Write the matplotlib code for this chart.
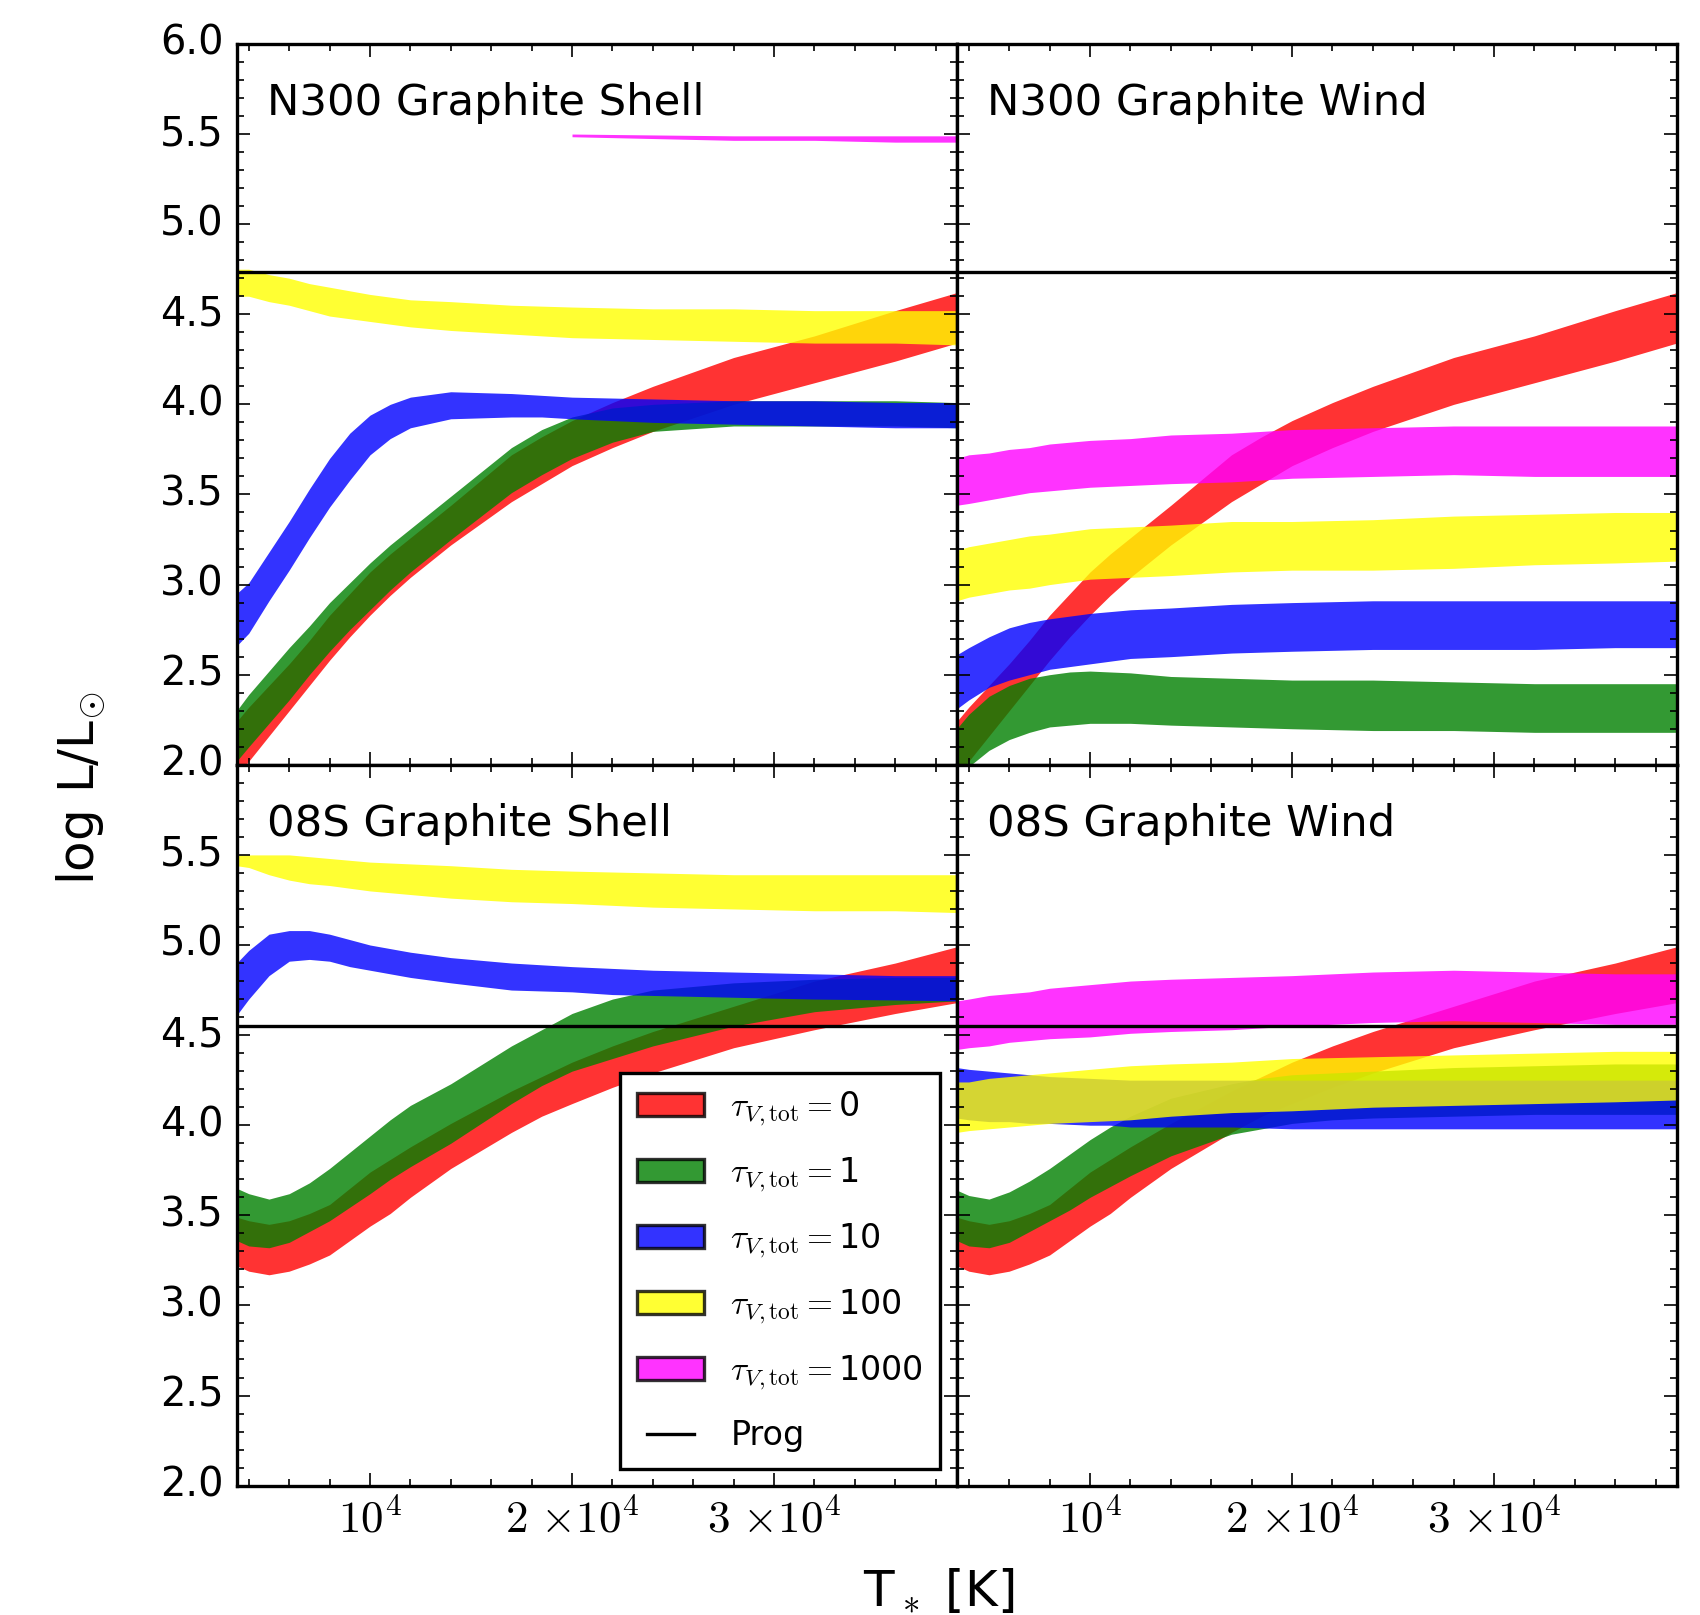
import numpy as np
import matplotlib
matplotlib.use('Agg')
import matplotlib.pyplot as plt
import matplotlib.patches as mpatches
from matplotlib.lines import Line2D
from matplotlib.ticker import MultipleLocator, FixedLocator, FuncFormatter

plt.style.use('classic')
plt.rcParams['mathtext.fontset'] = 'cm'
plt.rcParams['font.family'] = 'DejaVu Sans'

# temperature grid [K] shared by all bands
T = [3400, 4000, 5000, 6000, 7000, 8000, 9000, 10000, 11000, 12000, 14000,
     17000, 18500, 20000, 22000, 24000, 28000, 32000, 36000, 39040]
T_mag_shell = [20000, 24000, 28000, 32000, 36000, 39040]

# ---- N300 (top row) ----
n300_red_lo = [1.94, 2.02, 2.16, 2.30, 2.44, 2.58, 2.71, 2.83, 2.94, 3.04, 3.22, 3.46, 3.56, 3.66, 3.76, 3.85, 4.00, 4.12, 4.24, 4.34]
n300_red_hi = [2.24, 2.32, 2.44, 2.56, 2.69, 2.83, 2.95, 3.07, 3.17, 3.26, 3.44, 3.72, 3.82, 3.91, 4.01, 4.10, 4.26, 4.38, 4.52, 4.62]

n300_shell_green_lo = [2.02, 2.10, 2.23, 2.36, 2.50, 2.63, 2.75, 2.86, 2.97, 3.07, 3.25, 3.51, 3.61, 3.70, 3.79, 3.85, 3.88, 3.88, 3.88, 3.87]
n300_shell_green_hi = [2.30, 2.39, 2.52, 2.65, 2.77, 2.90, 3.01, 3.12, 3.22, 3.31, 3.49, 3.76, 3.86, 3.93, 3.98, 4.00, 4.02, 4.02, 4.02, 4.01]
n300_shell_blue_lo = [2.66, 2.73, 2.91, 3.08, 3.26, 3.43, 3.58, 3.72, 3.81, 3.87, 3.92, 3.93, 3.93, 3.92, 3.91, 3.90, 3.89, 3.88, 3.87, 3.87]
n300_shell_blue_hi = [2.95, 3.01, 3.18, 3.35, 3.53, 3.70, 3.84, 3.94, 4.00, 4.04, 4.07, 4.06, 4.05, 4.04, 4.035, 4.03, 4.02, 4.02, 4.01, 4.01]
n300_shell_yellow_lo = [4.60, 4.60, 4.57, 4.55, 4.52, 4.49, 4.475, 4.46, 4.445, 4.43, 4.41, 4.39, 4.38, 4.37, 4.365, 4.36, 4.35, 4.34, 4.34, 4.33]
n300_shell_yellow_hi = [4.75, 4.75, 4.72, 4.70, 4.67, 4.65, 4.63, 4.61, 4.595, 4.58, 4.57, 4.55, 4.545, 4.54, 4.535, 4.53, 4.53, 4.52, 4.52, 4.52]
n300_shell_mag_lo = [5.485, 5.475, 5.465, 5.465, 5.455, 5.455]
n300_shell_mag_hi = [5.50, 5.495, 5.49, 5.49, 5.49, 5.49]

n300_wind_green_lo = [1.92, 1.99, 2.08, 2.14, 2.18, 2.21, 2.22, 2.23, 2.23, 2.23, 2.22, 2.21, 2.205, 2.20, 2.195, 2.19, 2.19, 2.18, 2.18, 2.18]
n300_wind_green_hi = [2.20, 2.28, 2.38, 2.44, 2.48, 2.50, 2.515, 2.52, 2.515, 2.51, 2.49, 2.48, 2.475, 2.47, 2.47, 2.47, 2.46, 2.45, 2.45, 2.45]
n300_wind_blue_lo = [2.31, 2.36, 2.43, 2.47, 2.50, 2.53, 2.545, 2.56, 2.575, 2.59, 2.60, 2.62, 2.625, 2.63, 2.635, 2.64, 2.64, 2.64, 2.65, 2.65]
n300_wind_blue_hi = [2.61, 2.65, 2.71, 2.76, 2.79, 2.81, 2.825, 2.84, 2.85, 2.86, 2.87, 2.89, 2.895, 2.90, 2.905, 2.91, 2.91, 2.91, 2.91, 2.91]
n300_wind_yellow_lo = [2.91, 2.93, 2.95, 2.97, 2.98, 3.00, 3.015, 3.03, 3.035, 3.04, 3.05, 3.07, 3.075, 3.08, 3.08, 3.08, 3.09, 3.11, 3.12, 3.13]
n300_wind_yellow_hi = [3.19, 3.21, 3.23, 3.25, 3.27, 3.28, 3.295, 3.31, 3.315, 3.32, 3.33, 3.35, 3.35, 3.35, 3.355, 3.36, 3.38, 3.39, 3.40, 3.40]
n300_wind_mag_lo = [3.44, 3.45, 3.47, 3.49, 3.51, 3.52, 3.53, 3.54, 3.545, 3.55, 3.56, 3.57, 3.58, 3.59, 3.595, 3.60, 3.61, 3.60, 3.60, 3.60]
n300_wind_mag_hi = [3.70, 3.72, 3.73, 3.75, 3.76, 3.78, 3.79, 3.80, 3.805, 3.81, 3.83, 3.84, 3.85, 3.86, 3.865, 3.87, 3.88, 3.88, 3.88, 3.88]

# ---- 08S (bottom row) ----
o8s_red_lo = [3.22, 3.19, 3.17, 3.19, 3.23, 3.28, 3.36, 3.44, 3.51, 3.60, 3.76, 3.96, 4.05, 4.12, 4.21, 4.29, 4.43, 4.53, 4.62, 4.68]
o8s_red_hi = [3.49, 3.47, 3.45, 3.47, 3.51, 3.56, 3.65, 3.74, 3.81, 3.88, 4.01, 4.19, 4.27, 4.35, 4.44, 4.52, 4.66, 4.80, 4.90, 4.99]

o8s_shell_green_lo = [3.36, 3.33, 3.32, 3.35, 3.41, 3.47, 3.545, 3.62, 3.70, 3.77, 3.90, 4.12, 4.22, 4.30, 4.37, 4.44, 4.55, 4.63, 4.67, 4.69]
o8s_shell_green_hi = [3.65, 3.62, 3.59, 3.62, 3.68, 3.76, 3.85, 3.94, 4.03, 4.11, 4.23, 4.44, 4.53, 4.62, 4.70, 4.75, 4.79, 4.81, 4.82, 4.82]
o8s_shell_blue_lo = [4.61, 4.70, 4.83, 4.91, 4.92, 4.91, 4.88, 4.86, 4.84, 4.82, 4.79, 4.75, 4.745, 4.74, 4.725, 4.72, 4.71, 4.70, 4.695, 4.69]
o8s_shell_blue_hi = [4.90, 4.97, 5.06, 5.08, 5.08, 5.06, 5.03, 5.00, 4.98, 4.96, 4.93, 4.90, 4.89, 4.88, 4.87, 4.86, 4.85, 4.84, 4.83, 4.83]
o8s_shell_yellow_lo = [5.44, 5.43, 5.39, 5.36, 5.34, 5.33, 5.315, 5.30, 5.29, 5.28, 5.26, 5.24, 5.235, 5.23, 5.22, 5.21, 5.20, 5.19, 5.19, 5.18]
o8s_shell_yellow_hi = [5.50, 5.50, 5.50, 5.50, 5.49, 5.48, 5.47, 5.46, 5.455, 5.45, 5.44, 5.42, 5.415, 5.41, 5.405, 5.40, 5.39, 5.39, 5.39, 5.39]

o8s_wind_green_lo = [3.36, 3.33, 3.32, 3.35, 3.41, 3.47, 3.53, 3.60, 3.66, 3.72, 3.83, 3.95, 3.98, 4.01, 4.03, 4.04, 4.05, 4.06, 4.06, 4.06]
o8s_wind_green_hi = [3.64, 3.61, 3.59, 3.63, 3.69, 3.76, 3.84, 3.92, 3.99, 4.05, 4.15, 4.23, 4.26, 4.28, 4.29, 4.30, 4.32, 4.33, 4.34, 4.34]
o8s_wind_blue_lo = [4.04, 4.03, 4.02, 4.02, 4.01, 4.01, 4.005, 4.00, 4.00, 3.99, 3.99, 3.99, 3.985, 3.98, 3.98, 3.98, 3.98, 3.98, 3.98, 3.98]
o8s_wind_blue_hi = [4.32, 4.31, 4.30, 4.29, 4.28, 4.27, 4.265, 4.26, 4.255, 4.25, 4.25, 4.25, 4.25, 4.25, 4.25, 4.25, 4.25, 4.25, 4.25, 4.25]
o8s_wind_yellow_lo = [3.96, 3.97, 3.98, 3.99, 4.00, 4.01, 4.015, 4.02, 4.025, 4.03, 4.05, 4.07, 4.075, 4.08, 4.09, 4.10, 4.11, 4.12, 4.13, 4.14]
o8s_wind_yellow_hi = [4.24, 4.24, 4.26, 4.27, 4.28, 4.29, 4.30, 4.31, 4.32, 4.33, 4.34, 4.35, 4.36, 4.37, 4.375, 4.38, 4.39, 4.40, 4.41, 4.41]
o8s_wind_mag_lo = [4.42, 4.43, 4.44, 4.46, 4.47, 4.48, 4.485, 4.49, 4.50, 4.51, 4.52, 4.53, 4.54, 4.55, 4.56, 4.57, 4.58, 4.57, 4.56, 4.56]
o8s_wind_mag_hi = [4.69, 4.70, 4.72, 4.73, 4.74, 4.76, 4.77, 4.78, 4.79, 4.80, 4.81, 4.82, 4.825, 4.83, 4.84, 4.85, 4.86, 4.85, 4.84, 4.84]

n300_prog = 4.733
o8s_prog = 4.548

tau_values = ['0', '1', '10', '100', '1000']
colors = ['red', 'green', 'blue', 'yellow', 'magenta']

panels = [
    ('N300 Graphite Shell', n300_prog, [
        (T, n300_red_lo, n300_red_hi, 'red'),
        (T, n300_shell_green_lo, n300_shell_green_hi, 'green'),
        (T, n300_shell_blue_lo, n300_shell_blue_hi, 'blue'),
        (T, n300_shell_yellow_lo, n300_shell_yellow_hi, 'yellow'),
        (T_mag_shell, n300_shell_mag_lo, n300_shell_mag_hi, 'magenta')]),
    ('N300 Graphite Wind', n300_prog, [
        (T, n300_red_lo, n300_red_hi, 'red'),
        (T, n300_wind_green_lo, n300_wind_green_hi, 'green'),
        (T, n300_wind_blue_lo, n300_wind_blue_hi, 'blue'),
        (T, n300_wind_yellow_lo, n300_wind_yellow_hi, 'yellow'),
        (T, n300_wind_mag_lo, n300_wind_mag_hi, 'magenta')]),
    ('08S Graphite Shell', o8s_prog, [
        (T, o8s_red_lo, o8s_red_hi, 'red'),
        (T, o8s_shell_green_lo, o8s_shell_green_hi, 'green'),
        (T, o8s_shell_blue_lo, o8s_shell_blue_hi, 'blue'),
        (T, o8s_shell_yellow_lo, o8s_shell_yellow_hi, 'yellow')]),
    ('08S Graphite Wind', o8s_prog, [
        (T, o8s_red_lo, o8s_red_hi, 'red'),
        (T, o8s_wind_green_lo, o8s_wind_green_hi, 'green'),
        (T, o8s_wind_blue_lo, o8s_wind_blue_hi, 'blue'),
        (T, o8s_wind_yellow_lo, o8s_wind_yellow_hi, 'yellow'),
        (T, o8s_wind_mag_lo, o8s_wind_mag_hi, 'magenta')]),
]

xtick_text = {10000: r'$10^{4}$', 20000: r'$2\ {\times}10^{4}$', 30000: r'$3\ {\times}10^{4}$'}

fig, axes = plt.subplots(2, 2, figsize=(1700 / 240, 1615 / 240), dpi=240)
fig.patch.set_facecolor('white')
fig.subplots_adjust(left=0.1392, right=0.9863, bottom=0.0801, top=0.9728,
                    wspace=0, hspace=0)

for i, (ax, (title, prog, bands)) in enumerate(zip(axes.flat, panels)):
    for tt, lo, hi, c in bands:
        ax.fill_between(tt, lo, hi, facecolor=c, alpha=0.8, lw=0)
    ax.axhline(prog, color='k', lw=1)
    ax.text(0.042, 0.901, title, transform=ax.transAxes, fontsize=13)

    ax.set_xlim(3400, 39040)
    ax.set_ylim(2, 6)
    ax.xaxis.set_major_locator(FixedLocator([10000, 20000, 30000]))
    ax.xaxis.set_minor_locator(MultipleLocator(2000))
    ax.yaxis.set_major_locator(MultipleLocator(0.5))
    ax.yaxis.set_minor_locator(MultipleLocator(0.1))
    ax.xaxis.set_major_formatter(FuncFormatter(lambda v, p: xtick_text.get(int(round(v)), '')))
    ax.tick_params(axis='x', labelsize=13.5)

    row, col = divmod(i, 2)
    if row == 0:
        ax.tick_params(labelbottom=False)
        ax.yaxis.set_major_formatter(FuncFormatter(lambda v, p: '%.1f' % v))
    else:
        ax.yaxis.set_major_formatter(FuncFormatter(lambda v, p: '' if v > 5.99 else '%.1f' % v))
    if col == 1:
        ax.tick_params(labelleft=False)

handles = [mpatches.Patch(facecolor=c, edgecolor='k', alpha=0.8,
                          label=r'$\tau_{V,\mathrm{tot}}=$' + t)
           for c, t in zip(colors, tau_values)]
handles.append(Line2D([], [], color='k', lw=1, label='Prog'))
axes[1, 0].legend(handles=handles, loc='lower right', fontsize=10,
                  labelspacing=0.82, borderpad=0.5)

fig.text(0.552, 0.0062, r'T$_*$ [K]', ha='center', va='baseline', fontsize=15)
fig.text(0.048, 0.512, r'log L/L$_{\odot}$', rotation=90, ha='center', va='center', fontsize=15)

fig.savefig('out.png', dpi=240, facecolor='white')
